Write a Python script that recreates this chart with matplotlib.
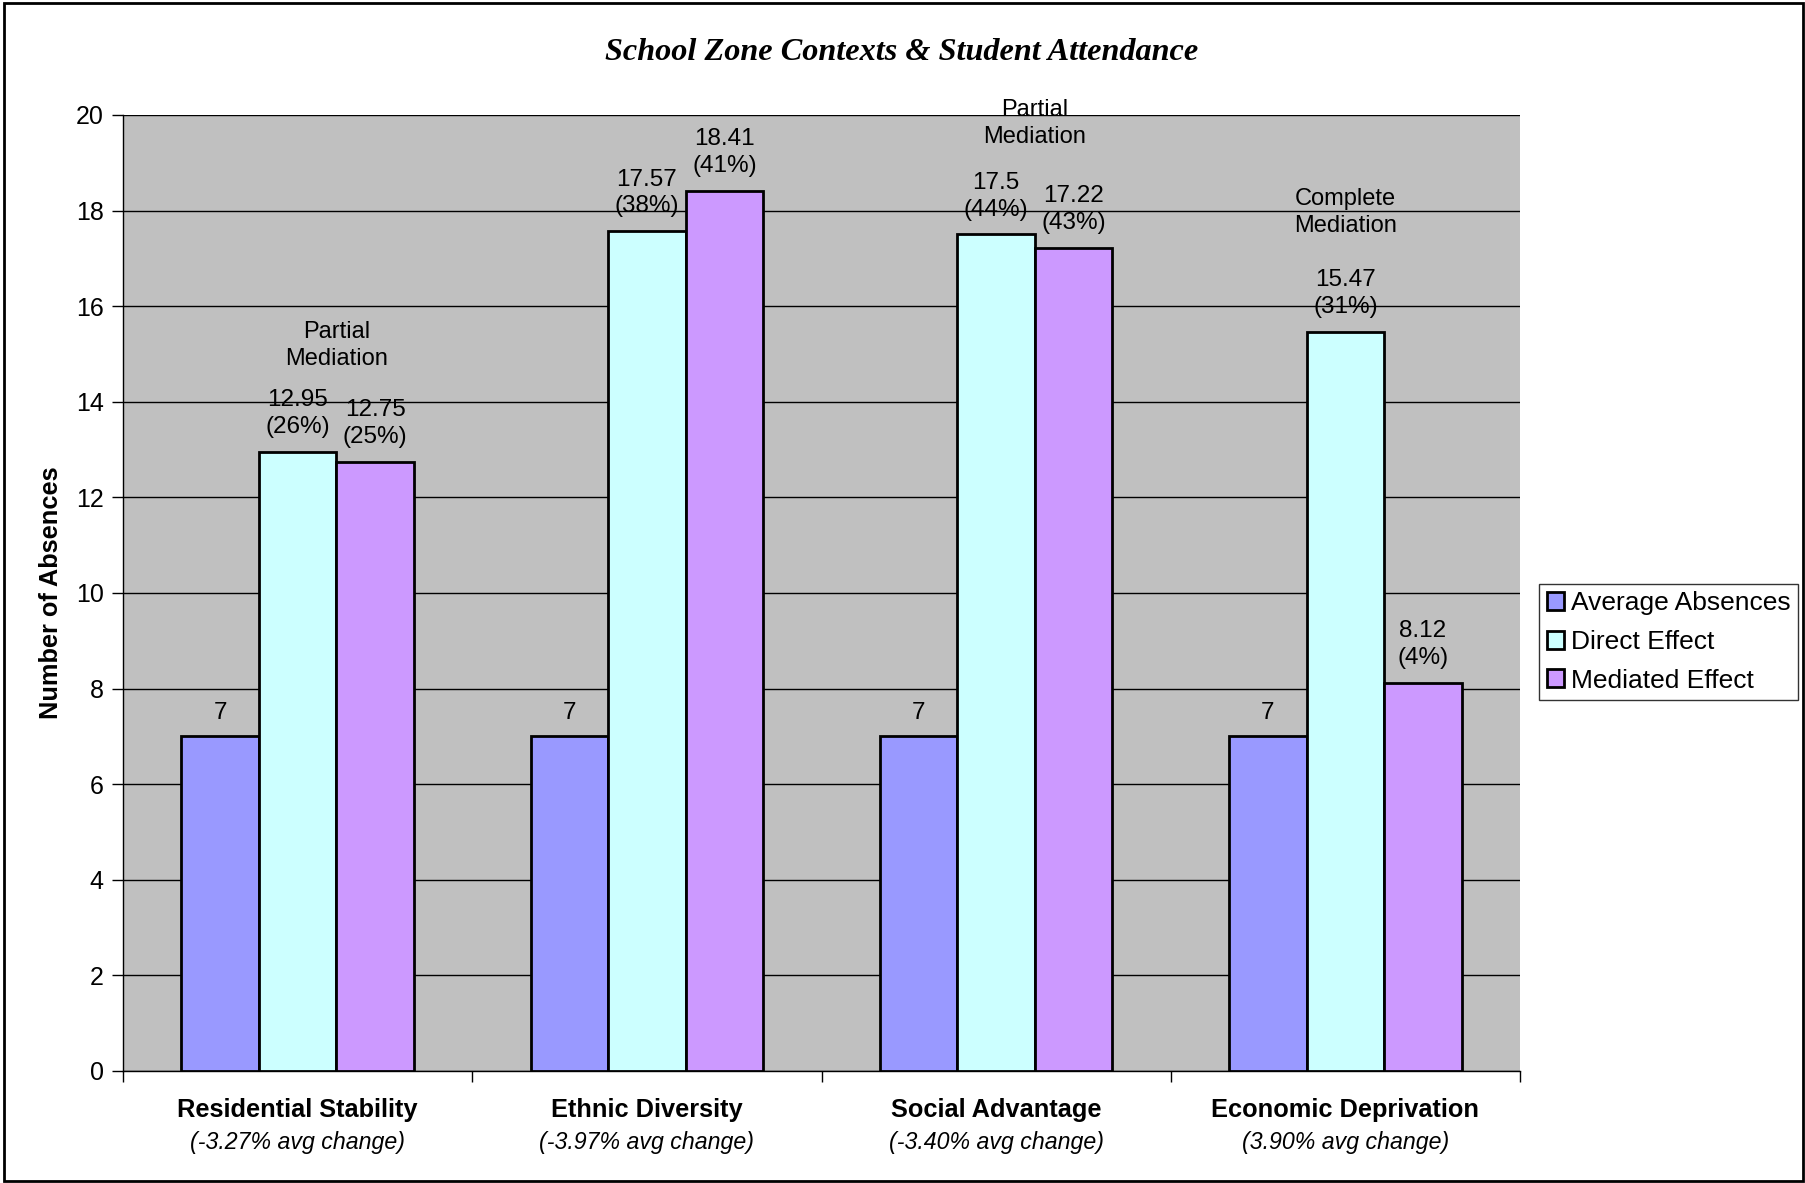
import numpy as np
import matplotlib.pyplot as plt
from matplotlib.patches import Rectangle
from matplotlib.transforms import blended_transform_factory

plt.rcParams['font.family'] = ['Liberation Sans', 'DejaVu Sans']

# Datos
categories = ['Residential Stability', 'Ethnic Diversity', 'Social Advantage', 'Economic Deprivation']
avg_change = ['(-3.27% avg change)', '(-3.97% avg change)', '(-3.40% avg change)', '(3.90% avg change)']
average_absences = [7, 7, 7, 7]
direct_effect = [12.95, 17.57, 17.5, 15.47]
mediated_effect = [12.75, 18.41, 17.22, 8.12]
direct_pct = ['26%', '38%', '44%', '31%']
mediated_pct = ['25%', '41%', '43%', '4%']
mediation = ['Partial\nMediation', '', 'Partial\nMediation', 'Complete\nMediation']

series_names = ['Average Absences', 'Direct Effect', 'Mediated Effect']
colors = ['#9999FF', '#CCFFFF', '#CC99FF']

fig = plt.figure(figsize=(18.05, 11.83), dpi=100)
ax = fig.add_axes([123/1805, 1 - 1071/1183, (1520 - 123)/1805, (1071 - 115)/1183])
ax.set_facecolor('#C0C0C0')

x = np.arange(len(categories))
w = 0.222
series = [average_absences, direct_effect, mediated_effect]
for i, (vals, name, c) in enumerate(zip(series, series_names, colors)):
    ax.bar(x + (i - 1) * w, vals, w, color=c, edgecolor='black', linewidth=2,
           label=name, zorder=3)

# Etiquetas de valores
lbl = dict(textcoords='offset points', ha='center', va='bottom', fontsize=17.5,
           linespacing=1.28)
for xi, v in zip(x, average_absences):
    ax.annotate(f'{v:g}', (xi - w, v), xytext=(0, 9), **lbl)
for xi, v, p in zip(x, direct_effect, direct_pct):
    ax.annotate(f'{v:g}\n({p})', (xi, v), xytext=(0, 10), **lbl)
for xi, v, p in zip(x, mediated_effect, mediated_pct):
    ax.annotate(f'{v:g}\n({p})', (xi + w, v), xytext=(0, 10), **lbl)

# Tipo de mediacion sobre cada grupo
med_dx = [0.5, 0.55, 0.5, 0.0]
med_dy = [59, 0, 62, 68]
for xi, m, top, dx, dy in zip(x, mediation, direct_effect, med_dx, med_dy):
    if m:
        ax.annotate(m, (xi + dx * w, top), xytext=(0, dy), textcoords='offset points',
                    ha='center', va='bottom', fontsize=17, linespacing=1.32)

ax.set_xlim(-0.5, len(categories) - 0.5)
ax.set_ylim(0, 20)
ax.set_yticks(np.arange(0, 21, 2))
ax.yaxis.grid(True, color='black', linewidth=1)
ax.set_axisbelow(True)
ax.tick_params(axis='y', labelsize=18, length=8, width=1, pad=6)
ax.set_xticks(np.arange(-0.5, len(categories)), [''] * (len(categories) + 1))
ax.tick_params(axis='x', length=8, width=1, direction='out')
for s in ['top', 'right']:
    ax.spines[s].set_visible(False)
ax.spines['left'].set_linewidth(1)
ax.spines['bottom'].set_linewidth(1)

trans = blended_transform_factory(ax.transData, fig.transFigure)
for xi, cat, ch in zip(x, categories, avg_change):
    ax.text(xi, 1 - 1110/1183, cat, transform=trans, ha='center', va='center',
            fontsize=18.3, fontweight='bold')
    ax.text(xi, 1 - 1142/1183, ch, transform=trans, ha='center', va='center',
            fontsize=16.7, fontstyle='italic')

fig.text(51/1805, 1 - 593/1183, 'Number of Absences', rotation=90, ha='center',
         va='center', fontsize=18.3, fontweight='bold')
fig.text(902/1805, 1 - 53/1183, 'School Zone Contexts & Student Attendance',
         ha='center', va='center', fontsize=23.2, fontweight='bold', fontstyle='italic',
         family='Liberation Serif')

leg = fig.legend(loc='center left', bbox_to_anchor=(1539/1805, 1 - 642/1183),
                 fontsize=19, frameon=True, fancybox=False, edgecolor='black',
                 handlelength=0.65, handleheight=0.65, handletextpad=0.25,
                 borderpad=0.3, labelspacing=0.55, borderaxespad=0)
leg.get_frame().set_linewidth(1)

# Marco de la figura
fig.patches.append(Rectangle((4/1805, 2/1183), 1799/1805, 1178/1183, transform=fig.transFigure,
                             fill=False, edgecolor='black', linewidth=2))

fig.savefig('out.png', dpi=100)
